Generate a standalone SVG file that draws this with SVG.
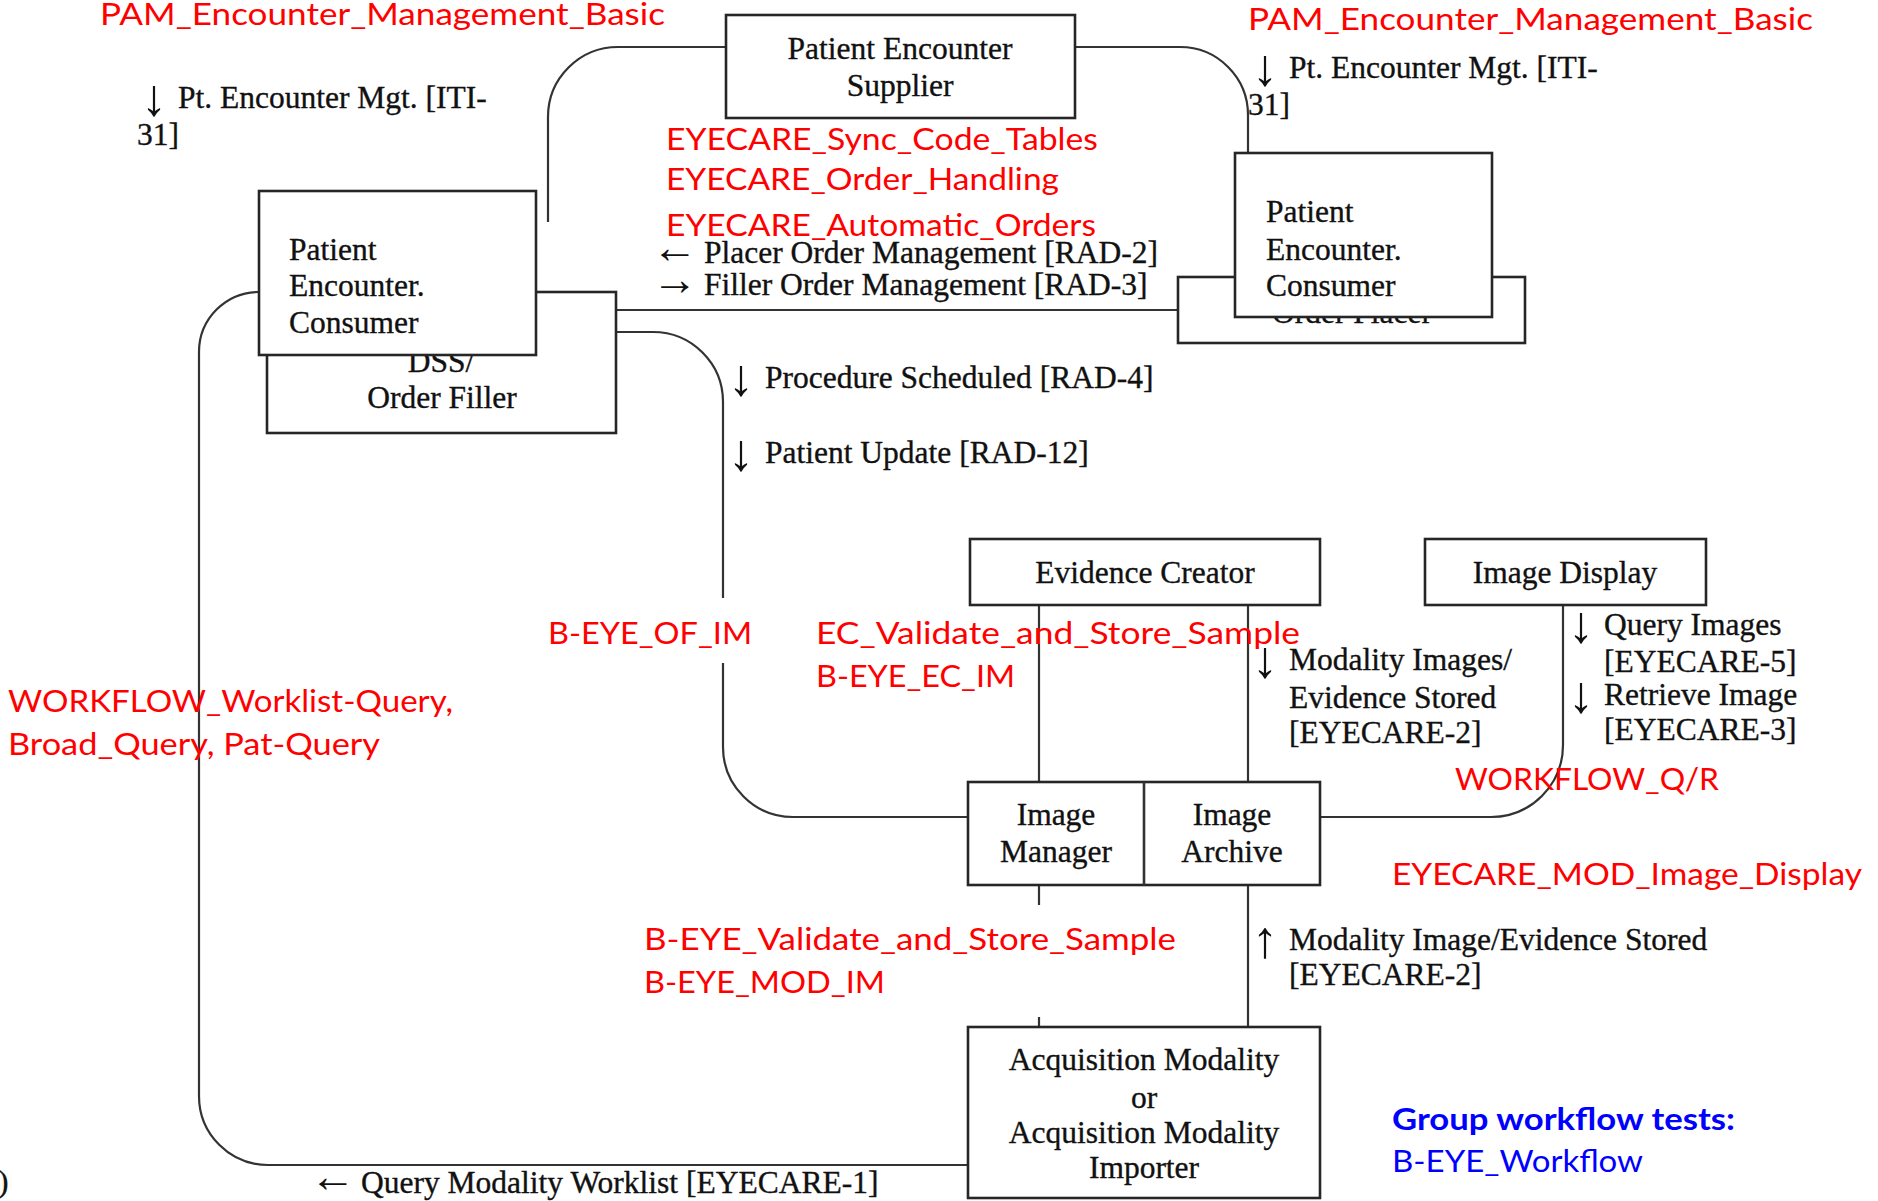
<svg xmlns="http://www.w3.org/2000/svg" width="1878" height="1201" viewBox="0 0 1878 1201">
<style>
.bx{fill:#fff;stroke:#262626;stroke-width:2.6}
.ln{fill:none;stroke:#333;stroke-width:2.2}
.t{font-family:'Liberation Serif','Times New Roman',serif;font-size:31.5px;fill:#111;stroke:#111;stroke-width:0.35}
.a{font-family:'Liberation Serif','Times New Roman',serif;font-size:52px;fill:#111}
.h{font-family:'Liberation Serif','Times New Roman',serif;font-size:46px;fill:#111}
.c{text-anchor:middle}
.r{font-family:Lato,'Open Sans',sans-serif;font-size:30px;fill:#ff0000}
.bl{font-family:Lato,'Open Sans',sans-serif;font-size:30px;fill:#0000ff}
</style>
<rect width="1878" height="1201" fill="#fff"/>
<g id="connectors">
<path class="ln" d="M726,47 H618 A70,70 0 0 0 548,117 V222"/>
<path class="ln" d="M1075,47 H1180 A68,68 0 0 1 1248,115 V153"/>
<path class="ln" d="M616,310 H1178"/>
<path class="ln" d="M616,332 H653 A70,70 0 0 1 723,402 V598 M723,663 V747 A70,70 0 0 0 793,817 H968"/>
<path class="ln" d="M1039,605 V782"/>
<path class="ln" d="M1248,605 V782"/>
<path class="ln" d="M1563,605 V745 A72,72 0 0 1 1491,817 H1320"/>
<path class="ln" d="M1248,885 V1027"/>
<path class="ln" d="M1039,885 V905 M1039,1017 V1027"/>
<path class="ln" d="M968,1165 H268 A69,69 0 0 1 199,1096 V352 A60,60 0 0 1 259,292"/>
</g>
<g id="supplier">
<rect class="bx" x="726" y="15" width="349" height="103"/>
<text class="t c" x="900" y="59">Patient Encounter</text>
<text class="t c" x="900" y="96">Supplier</text>
</g>
<g id="order-filler">
<rect class="bx" x="267" y="292" width="349" height="141"/>
<text class="t c" x="441" y="372">DSS/</text>
<text class="t c" x="442" y="408">Order Filler</text>
</g>
<g id="pec-left">
<rect class="bx" x="259" y="191" width="277" height="164"/>
<text class="t" x="289" y="260">Patient</text>
<text class="t" x="289" y="296">Encounter.</text>
<text class="t" x="289" y="333">Consumer</text>
</g>
<g id="order-placer">
<rect class="bx" x="1178" y="277" width="347" height="66"/>
<text class="t c" x="1352" y="323">Order Placer</text>
</g>
<g id="pec-right">
<rect class="bx" x="1235" y="153" width="257" height="164"/>
<text class="t" x="1266" y="222">Patient</text>
<text class="t" x="1266" y="260">Encounter.</text>
<text class="t" x="1266" y="296">Consumer</text>
</g>
<g id="evidence-creator">
<rect class="bx" x="970" y="539" width="350" height="66"/>
<text class="t c" x="1145" y="583">Evidence Creator</text>
</g>
<g id="image-display">
<rect class="bx" x="1425" y="539" width="281" height="66"/>
<text class="t c" x="1565" y="583">Image Display</text>
</g>
<g id="image-manager-archive">
<rect class="bx" x="968" y="782" width="352" height="103"/>
<path class="ln" d="M1144,782 V885" style="stroke-width:2.6"/>
<text class="t c" x="1056" y="825">Image</text>
<text class="t c" x="1056" y="862">Manager</text>
<text class="t c" x="1232" y="825">Image</text>
<text class="t c" x="1232" y="862">Archive</text>
</g>
<g id="acquisition-modality">
<rect class="bx" x="968" y="1027" width="352" height="171"/>
<text class="t c" x="1144" y="1070">Acquisition Modality</text>
<text class="t c" x="1144" y="1108">or</text>
<text class="t c" x="1144" y="1143">Acquisition Modality</text>
<text class="t c" x="1144" y="1178">Importer</text>
</g>
<g id="transaction-labels">
<text class="a" x="141" y="115">↓</text>
<text class="t" x="178" y="108">Pt. Encounter Mgt. [ITI-</text>
<text class="t" x="137" y="145">31]</text>
<text class="a" x="1252" y="85">↓</text>
<text class="t" x="1289" y="78">Pt. Encounter Mgt. [ITI-</text>
<text class="t" x="1248" y="115">31]</text>
<text class="h" x="652" y="263">←</text>
<text class="t" x="704" y="263">Placer Order Management [RAD-2]</text>
<text class="h" x="652" y="295">→</text>
<text class="t" x="704" y="295">Filler Order Management [RAD-3]</text>
<text class="a" x="728" y="395">↓</text>
<text class="t" x="765" y="388">Procedure Scheduled [RAD-4]</text>
<text class="a" x="728" y="470">↓</text>
<text class="t" x="765" y="463">Patient Update [RAD-12]</text>
<text class="a" x="1252" y="677">↓</text>
<text class="t" x="1289" y="670">Modality Images/</text>
<text class="t" x="1289" y="708">Evidence Stored</text>
<text class="t" x="1289" y="743">[EYECARE-2]</text>
<text class="a" x="1568" y="642">↓</text>
<text class="t" x="1604" y="635">Query Images</text>
<text class="t" x="1604" y="672">[EYECARE-5]</text>
<text class="a" x="1568" y="712">↓</text>
<text class="t" x="1604" y="705">Retrieve Image</text>
<text class="t" x="1604" y="740">[EYECARE-3]</text>
<text class="a" x="1252" y="957">↑</text>
<text class="t" x="1289" y="950">Modality Image/Evidence Stored</text>
<text class="t" x="1289" y="985">[EYECARE-2]</text>
<text class="h" x="310" y="1192">←</text>
<text class="t" x="361" y="1193">Query Modality Worklist [EYECARE-1]</text>
<text class="t" x="-2" y="1192">)</text>
</g>
<g id="test-labels">
<text class="r" x="100" y="25" textLength="565" lengthAdjust="spacingAndGlyphs">PAM_Encounter_Management_Basic</text>
<text class="r" x="1248" y="30" textLength="565" lengthAdjust="spacingAndGlyphs">PAM_Encounter_Management_Basic</text>
<text class="r" x="666" y="150" textLength="432" lengthAdjust="spacingAndGlyphs">EYECARE_Sync_Code_Tables</text>
<text class="r" x="666" y="190" textLength="393" lengthAdjust="spacingAndGlyphs">EYECARE_Order_Handling</text>
<text class="r" x="666" y="236" textLength="430" lengthAdjust="spacingAndGlyphs">EYECARE_Automatic_Orders</text>
<text class="r" x="548" y="644" textLength="204" lengthAdjust="spacingAndGlyphs">B-EYE_OF_IM</text>
<text class="r" x="816" y="644" textLength="484" lengthAdjust="spacingAndGlyphs">EC_Validate_and_Store_Sample</text>
<text class="r" x="816" y="687" textLength="199" lengthAdjust="spacingAndGlyphs">B-EYE_EC_IM</text>
<text class="r" x="8" y="712" textLength="445" lengthAdjust="spacingAndGlyphs">WORKFLOW_Worklist-Query,</text>
<text class="r" x="8" y="755" textLength="372" lengthAdjust="spacingAndGlyphs">Broad_Query, Pat-Query</text>
<text class="r" x="1455" y="790" textLength="264" lengthAdjust="spacingAndGlyphs">WORKFLOW_Q/R</text>
<text class="r" x="1392" y="885" textLength="470" lengthAdjust="spacingAndGlyphs">EYECARE_MOD_Image_Display</text>
<text class="r" x="644" y="950" textLength="532" lengthAdjust="spacingAndGlyphs">B-EYE_Validate_and_Store_Sample</text>
<text class="r" x="644" y="993" textLength="241" lengthAdjust="spacingAndGlyphs">B-EYE_MOD_IM</text>
<text class="bl" x="1392" y="1130" font-weight="bold" textLength="343" lengthAdjust="spacingAndGlyphs">Group workflow tests:</text>
<text class="bl" x="1392" y="1172" textLength="251" lengthAdjust="spacingAndGlyphs">B-EYE_Workflow</text>
</g>
</svg>
